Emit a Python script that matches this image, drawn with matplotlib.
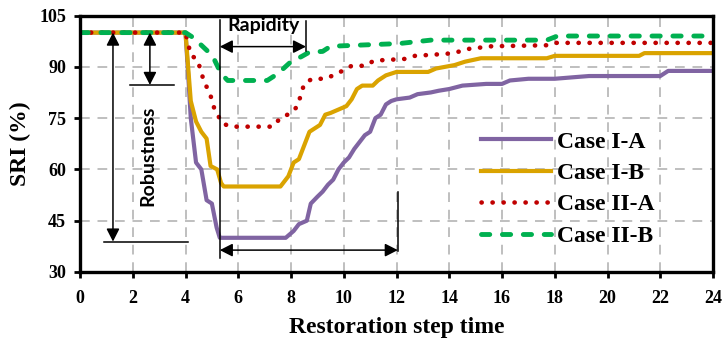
import matplotlib
matplotlib.use("Agg")
import matplotlib.pyplot as plt
from matplotlib.patches import FancyArrowPatch, ArrowStyle

# ---------------- data ----------------
x_ia = [0, 4, 4.1, 4.2, 4.4, 4.6, 4.8, 5.0, 5.18, 5.3, 7.8, 8.1, 8.3, 8.6, 8.75, 9.0, 9.2, 9.4,
        9.6, 9.8, 10.0, 10.2, 10.4, 10.6, 10.8, 11.0, 11.2, 11.4, 11.6, 11.8, 12.0, 12.5, 12.8,
        13.3, 13.6, 14.0, 14.5, 15.4, 16.0, 16.3, 17.0, 18.0, 18.8, 19.3, 22.0, 22.3, 24]
y_ia = [100, 100, 88, 75, 62, 60, 51, 50, 43, 40, 40, 42, 44, 45, 50, 52, 53.5, 55.5,
        57, 60, 62, 63.5, 66, 68, 70, 71, 75, 76, 79, 80, 80.5, 81, 82,
        82.5, 83, 83.5, 84.5, 85, 85, 86, 86.5, 86.5, 87, 87.3, 87.3, 88.8, 88.8]

x_ib = [0, 4, 4.1, 4.2, 4.4, 4.6, 4.8, 4.95, 5.2, 5.35, 5.45, 7.6, 7.9, 8.1, 8.3, 8.5, 8.7,
        8.9, 9.1, 9.3, 9.5, 9.8, 10.1, 10.3, 10.5, 10.7, 11.1, 11.3, 11.6, 12.0, 13.2, 13.5,
        14.2, 14.6, 15.2, 17.7, 18.0, 21.2, 21.4, 24]
y_ib = [100, 100, 90, 80, 74, 71, 69, 61, 60, 56, 55, 55, 58, 62, 63, 67, 71,
        72, 73, 76, 76.5, 77.5, 78.5, 80.5, 83.5, 84.5, 84.5, 86, 87.5, 88.5, 88.5, 89.5,
        90.5, 91.5, 92.5, 92.5, 93.2, 93.2, 94, 94]

x_iia = [0, 4, 4.2, 4.45, 4.6, 4.7, 4.85, 5.0, 5.1, 5.4, 5.7, 7.3, 7.6, 8.0, 8.25, 8.38, 8.5,
         8.8, 9.3, 9.6, 10.0, 10.3, 10.8, 11.15, 12.3, 12.7, 13.9, 14.3, 14.7, 15.6, 17.7,
         18.0, 24]
y_iia = [100, 100, 93.5, 92, 88.5, 85.5, 83.5, 80.5, 77.5, 73.5, 72.5, 72.5, 75, 76.5, 78.5,
         82, 85, 86.5, 86.5, 87.5, 89, 90.3, 90.3, 91.8, 92.3, 93.2, 93.8, 94.3, 95.2, 96,
         96.3, 97, 97]

x_iib = [0, 4, 4.3, 4.85, 5.1, 5.35, 5.6, 7.1, 7.5, 8.0, 8.4, 8.7, 9.2, 9.5, 12.1, 13.3,
         17.7, 18.1, 24]
y_iib = [100, 100, 98.5, 94.5, 92, 88, 86, 86, 88, 91.5, 93, 94.3, 94.5, 96, 96.8, 97.8,
         97.8, 99, 99]

labels = ["Case I-A", "Case I-B", "Case II-A", "Case II-B"]
colors = ["#8064A2", "#DAA300", "#C00000", "#00B050"]

x_ticks = list(range(0, 25, 2))
y_ticks = [30, 45, 60, 75, 90, 105]

# ---------------- figure ----------------
serif = ["Liberation Serif", "DejaVu Serif"]
sans = ["Lato", "DejaVu Sans"]

fig = plt.figure(figsize=(7.22, 3.41), dpi=100)
ax = fig.add_axes([80 / 722, 1 - 272 / 341, 633 / 722, (272 - 15.5) / 341])

ax.plot(x_ia, y_ia, color=colors[0], lw=3, label=labels[0], solid_joinstyle="round")
ax.plot(x_ib, y_ib, color=colors[1], lw=3, label=labels[1], solid_joinstyle="round")
ax.plot(x_iia, y_iia, color=colors[2], lw=3.3, label=labels[2],
        linestyle=(0, (0.05, 2.35)), dash_capstyle="round")
ax.plot(x_iib, y_iib, color=colors[3], lw=3.5, label=labels[3],
        linestyle=(0, (1.7, 2.6)), dash_capstyle="round")

ax.set_xlim(0, 24)
ax.set_ylim(30, 105)
ax.set_xticks(x_ticks)
ax.set_yticks(y_ticks)
ax.grid(True, color="#BFBFBF", linestyle=(0, (5, 4)), lw=1.4)
ax.set_axisbelow(True)
for s in ax.spines.values():
    s.set_linewidth(2.4)
    s.set_color("black")
ax.tick_params(direction="out", length=4, width=2, labelsize=13)
ax.tick_params(axis="x", pad=9)
ax.tick_params(axis="y", pad=6)
for t in ax.get_xticklabels() + ax.get_yticklabels():
    t.set_family(serif)
    t.set_fontweight("bold")

ax.set_xlabel("Restoration step time", family=serif, fontweight="bold", fontsize=17, labelpad=7)
ax.set_ylabel("SRI (%)", family=serif, fontweight="bold", fontsize=17, labelpad=6)

leg = ax.legend(loc="center left", bbox_to_anchor=((481 - 80) / 633, 1 - (189 - 15.5) / 256.5),
                frameon=False, prop={"family": serif, "weight": "bold", "size": 17},
                handlelength=2.95, handletextpad=0.25, labelspacing=0.42,
                borderpad=0, borderaxespad=0)

# ---------------- annotations ----------------
lc = "black"
astyle = ArrowStyle("<|-|>", head_length=0.55, head_width=0.28)


def darrow(p0, p1):
    a = FancyArrowPatch(p0, p1, arrowstyle=astyle, mutation_scale=14, color=lc,
                        lw=1.1, shrinkA=0, shrinkB=0, clip_on=False, zorder=6)
    ax.add_patch(a)


def seg(xs, ys):
    ax.plot(xs, ys, color=lc, lw=1.1, clip_on=False, zorder=6)


# robustness arrows
darrow((1.25, 100), (1.25, 38.9))
seg([0.9, 4.1], [38.9, 38.9])
darrow((2.65, 100), (2.65, 84.7))
seg([1.9, 3.55], [84.7, 84.7])
ax.text(2.58, 64, "Robustness", rotation=90, ha="center", va="center",
        family=sans, fontweight="bold", fontsize=14, zorder=7)

# vertical reference line at disturbance bottom
seg([5.3, 5.3], [103.6, 34.0])
# rapidity
darrow((5.3, 95.9), (8.57, 95.9))
seg([8.57, 8.57], [103.4, 94.5])
ax.text(6.95, 102.0, "Rapidity", ha="center", va="center",
        family=sans, fontweight="bold", fontsize=14, zorder=7)
# recovery duration
darrow((5.3, 36.4), (12.05, 36.4))
seg([12.05, 12.05], [53.3, 36.0])

fig.savefig("out.png", dpi=100)
